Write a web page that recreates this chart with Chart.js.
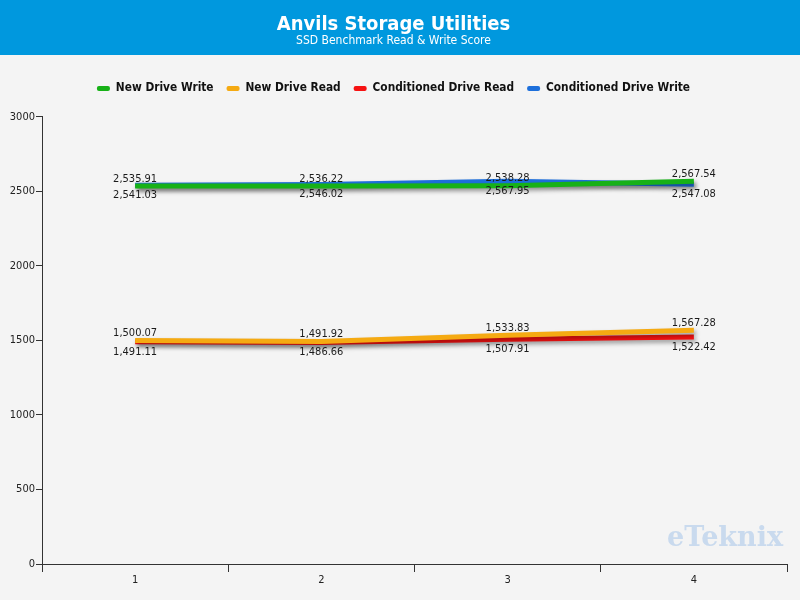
<!DOCTYPE html>
<html>
<head>
<meta charset="utf-8">
<script src="https://cdn.jsdelivr.net/npm/chart.js@4/dist/chart.umd.min.js"></script>
<style>
  html, body { margin: 0; padding: 0; background: #f4f4f4; }
  #wrap { width: 800px; height: 600px; }
</style>
</head>
<body>
<div id="wrap"><canvas id="myChart" width="800" height="600"></canvas></div>
<script>
const categories = ['1', '2', '3', '4'];
const seriesNames = ['New Drive Write', 'New Drive Read', 'Conditioned Drive Read', 'Conditioned Drive Write'];
const newDriveWrite = [2535.91, 2536.22, 2538.28, 2567.54];
const newDriveRead = [1500.07, 1491.92, 1533.83, 1567.28];
const conditionedDriveRead = [1491.11, 1486.66, 1507.91, 1522.42];
const conditionedDriveWrite = [2541.03, 2546.02, 2567.95, 2547.08];
const seriesColors = ['#17b117', '#f5aa12', '#f61212', '#1d6fdb'];
// label above (-1) or below (+1) the line
const labelSide = [-1, -1, 1, 1];

const chart = document.getElementById('myChart');
const font = "'DejaVu Sans Condensed', 'DejaVu Sans', sans-serif";

const fmt = v => v.toLocaleString('en-US', {minimumFractionDigits: 2, maximumFractionDigits: 2});

const backgroundPlugin = {
    id: 'background',
    beforeDraw(c) {
        const ctx = c.ctx;
        ctx.save();
        ctx.fillStyle = '#f4f4f4';
        ctx.fillRect(0, 0, c.width, c.height);
        ctx.fillStyle = '#0098de';
        ctx.fillRect(0, 0, c.width, 55);
        ctx.restore();
    }
};

const shadowPlugin = {
    id: 'lineShadow',
    beforeDatasetDraw(c) {
        const ctx = c.ctx;
        ctx.save();
        ctx.shadowColor = 'rgba(0,0,0,0.35)';
        ctx.shadowBlur = 4;
        ctx.shadowOffsetX = 2;
        ctx.shadowOffsetY = 3;
    },
    afterDatasetDraw(c) {
        c.ctx.restore();
    }
};

const valueLabels = {
    id: 'valueLabels',
    afterDatasetsDraw(c) {
        const ctx = c.ctx;
        ctx.save();
        ctx.font = '11px ' + font;
        ctx.fillStyle = '#1a1a1a';
        ctx.textAlign = 'center';
        ctx.textBaseline = 'middle';
        c.data.datasets.forEach((ds, i) => {
            const meta = c.getDatasetMeta(i);
            meta.data.forEach((pt, j) => {
                const off = labelSide[i] < 0 ? -7 : 10;
                ctx.fillText(fmt(ds.data[j]), pt.x, pt.y + off);
            });
        });
        ctx.restore();
    }
};

const watermark = {
    id: 'watermark',
    afterDraw(c) {
        const ctx = c.ctx;
        ctx.save();
        ctx.font = "bold 27px 'DejaVu Serif', serif";
        ctx.fillStyle = 'rgba(120,170,225,0.35)';
        ctx.textAlign = 'right';
        ctx.textBaseline = 'alphabetic';
        ctx.fillText('eTeknix', 783, 546);
        ctx.restore();
    }
};

const legendMargin = {
    id: 'legendMargin',
    beforeInit(c) {
        const fit = c.legend.fit;
        c.legend.fit = function () {
            fit.bind(c.legend)();
            this.height += 12.5;
        };
    }
};

const allSeries = [newDriveWrite, newDriveRead, conditionedDriveRead, conditionedDriveWrite];

const datasets = allSeries.map((data, i) => ({
    label: seriesNames[i],
    data: data,
    borderColor: seriesColors[i],
    backgroundColor: seriesColors[i],
    borderWidth: 5,
    pointRadius: 0,
    tension: 0,
    fill: false,
}));

new Chart(chart.getContext('2d'), {
    type: 'line',
    data: { labels: categories, datasets: datasets },
    plugins: [backgroundPlugin, shadowPlugin, valueLabels, watermark, legendMargin],
    options: {
        responsive: false,
        animation: false,
        layout: { padding: { left: 0, right: 13, top: 0, bottom: 0 } },
        plugins: {
            tooltip: { enabled: false },
            title: {
                display: true,
                text: 'Anvils Storage Utilities',
                color: '#ffffff',
                font: { family: font, size: 20, weight: 'bold', lineHeight: 1 },
                padding: { top: 15, bottom: 0 },
            },
            subtitle: {
                display: true,
                text: 'SSD Benchmark Read & Write Score',
                color: '#ffffff',
                font: { family: font, size: 12, lineHeight: 1 },
                padding: { top: 0, bottom: 22.5 },
            },
            legend: {
                position: 'top',
                labels: {
                    color: '#111',
                    font: { family: font, size: 11.8, weight: 'bold' },
                    boxWidth: 13,
                    boxHeight: 5,
                    useBorderRadius: true,
                    borderRadius: 2,
                    padding: 13,
                    generateLabels(c) {
                        return c.data.datasets.map((ds, i) => ({
                            text: ds.label,
                            fillStyle: ds.backgroundColor,
                            strokeStyle: ds.borderColor,
                            lineWidth: 0,
                            borderRadius: 2,
                            hidden: false,
                            datasetIndex: i,
                            fontColor: '#111',
                        }));
                    },
                },
            },
        },
        scales: {
            x: {
                offset: true,
                grid: { offset: true, drawOnChartArea: false, tickLength: 8, color: '#333' },
                border: { color: '#333', width: 1 },
                ticks: { color: '#222', font: { family: font, size: 11 }, padding: 2 },
                afterFit(s) { s.height = 36; },
            },
            y: {
                min: 0,
                max: 3000,
                ticks: {
                    stepSize: 500,
                    color: '#222',
                    font: { family: font, size: 11 },
                    padding: 1,
                    callback: v => String(v),
                },
                grid: { drawOnChartArea: false, tickLength: 6, color: '#333' },
                border: { color: '#333', width: 1 },
                afterFit(s) { s.width = 42; },
            },
        },
    },
});
</script>
</body>
</html>
